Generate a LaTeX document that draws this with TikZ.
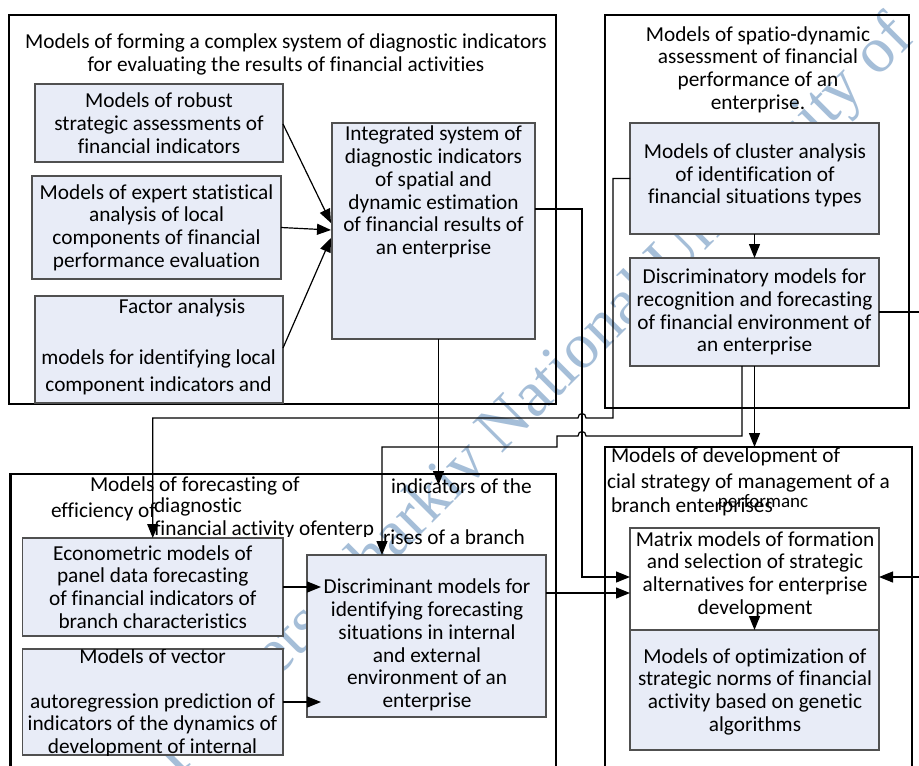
\documentclass[tikz,border=0pt]{standalone}
\usepackage{fontspec}
\setmainfont{Carlito}[Ligatures=NoCommon]
\newfontfamily\wmfont{Liberation Serif}
\usetikzlibrary{arrows.meta,calc}
\definecolor{boxfill}{RGB}{232,236,247}
\definecolor{boxline}{RGB}{80,80,80}
\definecolor{wmblue}{RGB}{165,190,216}
\begin{document}
\begin{tikzpicture}[x=1pt,y=-1pt,
  font=\fontsize{21.3}{22.7}\selectfont,
  bigbox/.style={draw=black,line width=2.5pt,inner sep=0pt,outer sep=0pt},
  subbox/.style={draw=boxline,fill=boxfill,line width=1.2pt,inner sep=0pt,outer sep=0pt,align=center},
  txt/.style={inner sep=0pt,outer sep=0pt,align=center},
  conn/.style={line width=1.2pt,draw=black},
  arr/.style={conn,-{Triangle[length=14pt,width=11pt]}},
]
\useasboundingbox (0,0) rectangle (919,766);
\fill[white] (0,0) rectangle (919,766);

% watermark
\node[inner sep=0pt,rotate=45,anchor=base west,text=wmblue,font=\wmfont\fontsize{65}{65}\selectfont] (WM) at (177.6,778.4) {Kuznets Kharkiv National University of};

% big frames
\node[bigbox,minimum width=547pt,minimum height=389pt] (B1) at (282.5,209.5) {};
\node[bigbox,minimum width=304pt,minimum height=393pt] (B2) at (757,211.5) {};
\node[bigbox,minimum width=545.5pt,minimum height=316pt] (B3) at (283.25,632) {};
\node[bigbox,minimum width=307pt,minimum height=343pt] (B4) at (758.5,618.5) {};

% frame titles
\node[txt] (T1) at (286,54.5) {Models of forming a complex system of diagnostic indicators\\for evaluating the results of financial activities};
\node[txt] (T2) at (758,69.5) {Models of spatio-dynamic\\assessment of financial\\performance of an\\enterprise.};
\node[txt,anchor=west] (T3a) at (90,486) {Models of forecasting of};
\node[txt,anchor=west] (T3b) at (51,512) {efficiency of};
\node[txt,anchor=west] (T3c) at (154,507) {diagnostic};
\begin{scope}
\clip (150,515) rectangle (400,536);
\node[txt,anchor=west] (T3d) at (154,530) {financial activity ofenterp};
\end{scope}
\node[txt,anchor=west] (T3e) at (391,486) {indicators of the};
\node[txt,anchor=west] (T3f) at (383,537) {rises of a branch};
\node[txt,anchor=west] (T4a) at (611,457) {Models of development of};
\node[txt,anchor=west] (T4b) at (607,483) {cial strategy of management of a};
\node[txt,anchor=west] (T4c) at (611,507) {branch enterprises};
\node[txt,font=\fontsize{19}{20}\selectfont] (T4d) at (763,503) {performanc};

% inner boxes
\node[subbox,minimum width=248pt,minimum height=78pt] (A) at (159,123) {Models of robust\\strategic assessments of\\financial indicators};
\node[subbox,minimum width=249pt,minimum height=103pt] (B) at (156.5,227.5) {Models of expert statistical\\analysis of local\\components of financial\\performance evaluation};
\node[subbox,minimum width=248pt,minimum height=107pt] (C) at (159,349.5) {};
\node[txt] (Ct1) at (182,308) {Factor analysis};
\node[txt] (Ct2) at (158.5,359) {models for identifying local};
\node[txt] (Ct3) at (158.5,386) {component indicators and};
\node[subbox,minimum width=203pt,minimum height=216pt] (D) at (433.5,231) {};
\node[txt] (Dt) at (433.5,192) {Integrated system of\\diagnostic indicators\\of spatial and\\dynamic estimation\\of financial results of\\an enterprise};
\node[subbox,minimum width=249pt,minimum height=111pt] (E) at (754.5,178.5) {};
\node[txt] (Et) at (755,175.5) {Models of cluster analysis\\of identification of\\financial situations types};
\node[subbox,minimum width=249pt,minimum height=108pt] (F) at (754.5,312) {Discriminatory models for\\recognition and forecasting\\of financial environment of\\an enterprise};
\node[subbox,minimum width=260.5pt,minimum height=98pt] (G) at (152.75,587) {Econometric models of\\panel data forecasting\\of financial indicators of\\branch characteristics};
\node[subbox,minimum width=260.5pt,minimum height=106pt] (H) at (152.75,702) {};
\begin{scope}
\clip (H.north west) rectangle (H.south east);
\node[txt] (Ht1) at (152.5,656) {Models of vector};
\node[txt] (Ht2) at (152.5,703) {autoregression prediction of};
\node[txt] (Ht3) at (152.5,725) {indicators of the dynamics of};
\node[txt] (Ht4) at (152.5,748) {development of internal};
\end{scope}
\node[subbox,minimum width=239pt,minimum height=162pt] (I) at (426.5,636) {};
\node[txt] (It) at (427,645) {Discriminant models for\\identifying forecasting\\situations in internal\\and external\\environment of an\\enterprise};
\node[subbox,fill=white,minimum width=249pt,minimum height=102pt] (J) at (754.5,579) {};
\node[txt] (Jt) at (755,574.5) {Matrix models of formation\\and selection of strategic\\alternatives for enterprise\\development};
\node[subbox,minimum width=249pt,minimum height=120pt] (K) at (754.5,690) {};
\node[txt] (Kt) at (755,691.5) {Models of optimization of\\strategic norms of financial\\activity based on genetic\\algorithms};

% connectors
\draw[arr] ($(A.east)+(0,1)$) -- ($(D.west)+(-1,-8)$);
\draw[arr] (B.east) -- ($(D.west)+(-1,-1)$);
\draw[arr] ($(C.east)+(0,-1.5)$) -- ($(D.west)+(-1,7)$);
\draw[arr] ($(D.south)+(5,0)$) -- ($(D.south)+(5,146)$);
\draw[arr] ($(D.east)+(0,-22)$) -| ($(J.west)+(-48,-2)$) -- ($(J.west)+(0,-2)$);
\draw[arr] (E.west) -- ++(-17,0) |- (586,418) .. controls (586,412) and (578,412) .. (578,418) -| (G.north);
\draw[arr] ($(F.south)+(-12.5,0)$) |- (586,436) .. controls (586,430) and (578,430) .. (578,436) -- (557,436) -- (557,447) -| ($(I.north)+(-44.5,0)$);
\draw[arr] (F.south) -- (F.south |- B4.north);
\draw[arr] (E.south) -- (F.north);
\draw[arr] (G.east) -- ($(I.west |- G.east)+(14,0)$);
\draw[arr] (H.east) -- ($(I.west |- H.east)+(14,0)$);
\draw[arr] ($(I.east)+(0,-43)$) -- ($(J.west)+(0,14)$);
\draw[arr] (F.east) -- ++(46,0) |- ($(J.east)+(0,-2)$);
\draw[arr] ($(J.south)+(0,-13)$) -- (K.north);
\end{tikzpicture}
\end{document}
